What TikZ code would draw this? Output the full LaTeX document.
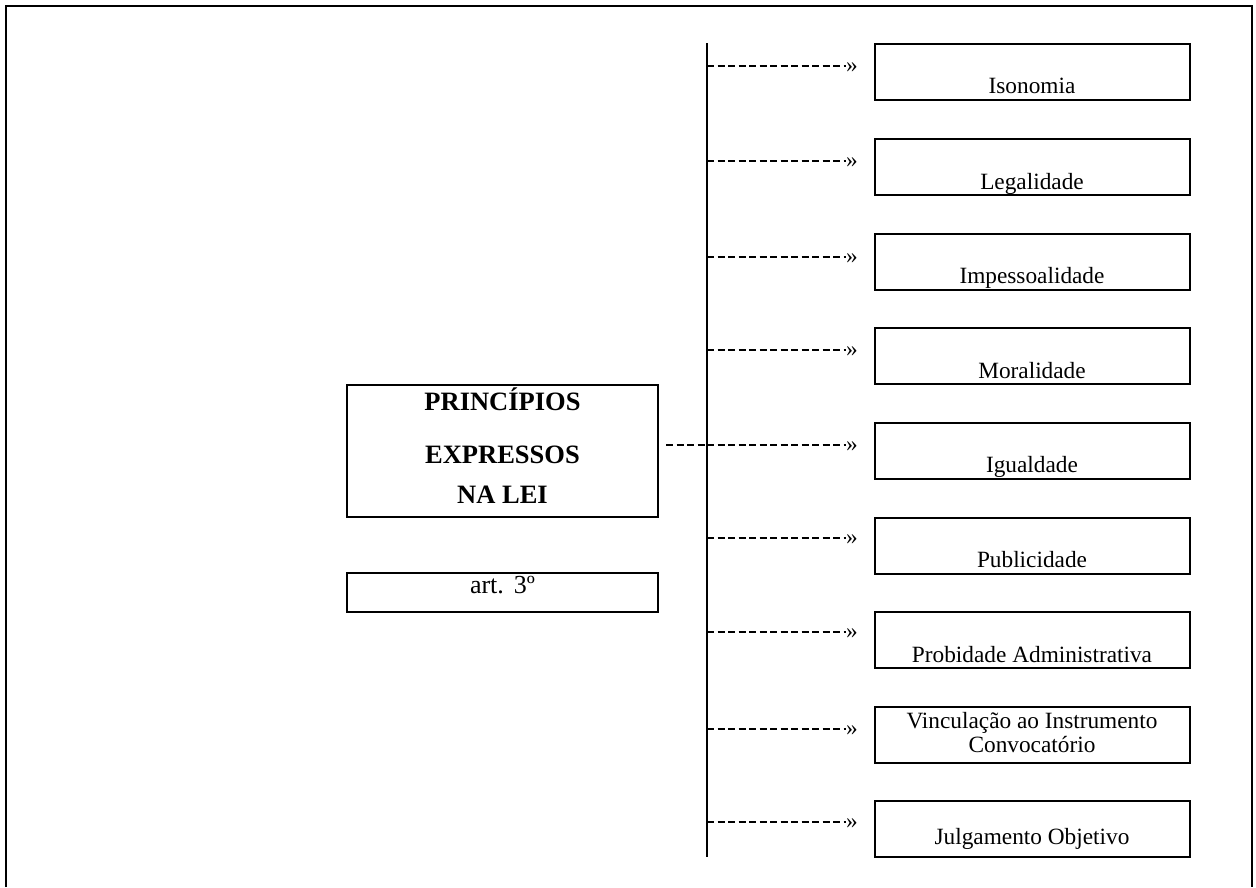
\documentclass[tikz,border=0pt]{standalone}
\usepackage{fontspec}
\setmainfont{Liberation Serif}
\begin{document}
\begin{tikzpicture}[x=1pt,y=-1pt,
  frameline/.style={line width=2pt},
  rbox/.style={draw, line width=2pt, minimum width=315pt, minimum height=56pt, anchor=north west, inner sep=0pt, outer sep=0pt},
  lbox/.style={draw, line width=2pt, minimum width=311pt, anchor=north west, inner sep=0pt, outer sep=0pt},
  rtext/.style={anchor=base, inner sep=0pt, font=\fontsize{23.3}{26}\selectfont},
  btext/.style={anchor=base, inner sep=0pt, font=\bfseries\fontsize{26.5}{30}\selectfont},
  glyph/.style={anchor=base west, inner sep=0pt, outer sep=0pt, font=\fontsize{23.3}{26}\selectfont},
  dashline/.style={line width=1.3pt, dash pattern=on 7pt off 3.5pt}]
\useasboundingbox (0,0) rectangle (1256,887);
% outer frame
\draw[frameline] (6,887) -- (6,6) -- (1252,6) -- (1252,887);
% spine
\coordinate (sptop) at (707,43);
\coordinate (spbot) at (707,857);
\draw[line width=2pt] (sptop) -- (spbot);
% main box
\node[lbox, minimum height=132pt] (main) at (347,385) {};
\node[btext] (t1) at (502.5,410) {PRINCÍPIOS};
\node[btext] (t2) at (502.5,463) {EXPRESSOS};
\node[btext] (t3) at (502.5,503) {NA LEI};
% art box
\node[lbox, minimum height=39pt] (art) at (347,573) {};
\node[anchor=base, inner sep=0pt, font=\fontsize{26}{30}\selectfont] (arttext) at (502.5,593) {art.\hspace{10pt}3º};
% right boxes
\foreach \n/\t/\a/\b/\txt in {
  1/44/66/93/Isonomia,
  2/139/161/189/Legalidade,
  3/234/257/283/Impessoalidade,
  4/328/350/378/Moralidade,
  5/423/445/472/Igualdade,
  6/518/538/567/Publicidade,
  7/612/632/662/Probidade Administrativa,
  8/707/729/728/Vinculação ao Instrumento,
  9/801/822/844/Julgamento Objetivo}{
  \node[rbox] (b\n) at (875,\t) {};
  \node[rtext] (l\n) at (1032,\b) {\txt};
  \coordinate (s\n) at (707,\a);
  \node[glyph] (g\n) at (846,\a+6) {»};
  \draw[dashline] (s\n) -- (s\n -| g\n.west);
}
\node[rtext] (l8b) at (1032,752) {Convocatório};
% connector from main box to spine
\coordinate (m5) at (666,445);
\draw[dashline] (m5) -- (s5);
\end{tikzpicture}
\end{document}
